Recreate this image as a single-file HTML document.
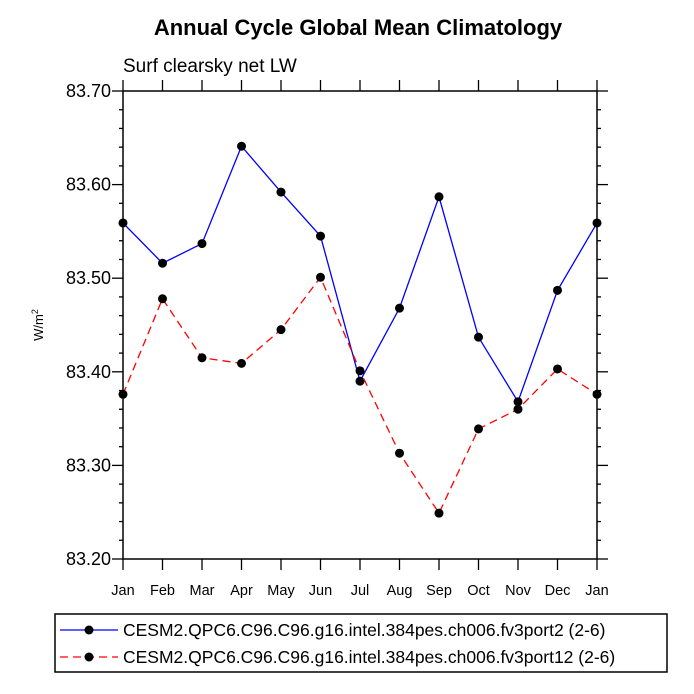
<!DOCTYPE html>
<html><head><meta charset="utf-8"><style>body{margin:0;background:#fff}svg{display:block}</style></head>
<body>
<svg id="c" width="694" height="694" xmlns="http://www.w3.org/2000/svg" font-family="Liberation Sans, sans-serif">
<text x="358" y="35" text-anchor="middle" font-size="22" font-weight="bold">Annual Cycle Global Mean Climatology</text>
<text x="123" y="72" font-size="19">Surf clearsky net LW</text>
<text transform="translate(43,325) rotate(-90)" text-anchor="middle" font-size="13">W/m<tspan font-size="9" dy="-5">2</tspan></text>
<g id="axes"></g>
<g id="series"></g>
<g>
<rect x="55" y="614" width="612" height="58" fill="none" stroke="#000" stroke-width="1.5"/>
<line x1="60" y1="630" x2="118" y2="630" stroke="#00f" stroke-width="1.3"/>
<circle cx="89" cy="630" r="4.5"/>
<text x="123" y="636" font-size="17.5">CESM2.QPC6.C96.C96.g16.intel.384pes.ch006.fv3port2 (2-6)</text>
<line x1="60" y1="657" x2="118" y2="657" stroke="#f00" stroke-width="1.3" stroke-dasharray="8,5"/>
<circle cx="89" cy="657" r="4.5"/>
<text x="123" y="663" font-size="17.5">CESM2.QPC6.C96.C96.g16.intel.384pes.ch006.fv3port12 (2-6)</text>
</g>
</svg>
<script>
const months=["Jan","Feb","Mar","Apr","May","Jun","Jul","Aug","Sep","Oct","Nov","Dec","Jan"];
const port2=[83.559,83.516,83.537,83.641,83.592,83.545,83.390,83.468,83.587,83.437,83.368,83.487,83.559];
const port12=[83.376,83.478,83.415,83.409,83.445,83.501,83.401,83.313,83.249,83.339,83.360,83.403,83.376];
const yTicks=["83.20","83.30","83.40","83.50","83.60","83.70"];
const L=123,R=597,T=91,B=559,ymin=83.2,ymax=83.7;
const xs=i=>L+i*(R-L)/(months.length-1);
const ys=v=>B-(v-ymin)/(ymax-ymin)*(B-T);
const NS="http://www.w3.org/2000/svg";
function mk(tag,at,parent){const e=document.createElementNS(NS,tag);for(const k in at)e.setAttribute(k,at[k]);parent.appendChild(e);return e;}
const ax=document.getElementById('axes'),se=document.getElementById('series');
const fr=mk('rect',{x:L,y:T,width:R-L,height:B-T,fill:'none',stroke:'#000','stroke-width':1.5},ax);


months.forEach((m,i)=>{const x=xs(i);
 const t1=mk('line',{x1:x,y1:B,x2:x,y2:B+11,stroke:'#000','stroke-width':1.3},ax);
 
 
 const t2=mk('line',{x1:x,y1:T,x2:x,y2:T-11,stroke:'#000','stroke-width':1.3},ax);
 
 
 const lb=mk('text',{x:x,y:B+36,'text-anchor':'middle','font-size':14.5},ax);lb.textContent=m;
 
 
});
for(let k=0;k<=25;k++){const v=ymin+k*0.02,y=ys(v),maj=k%5===0,len=maj?11:4;
 const a=mk('line',{x1:L,y1:y,x2:L-len,y2:y,stroke:'#000','stroke-width':1.3},ax);
 
 
 const b=mk('line',{x1:R,y1:y,x2:R+len,y2:y,stroke:'#000','stroke-width':1.3},ax);
 
 
}
yTicks.forEach(t=>{const lb=mk('text',{x:L-12,y:ys(parseFloat(t))+6,'text-anchor':'end','font-size':18},ax);lb.textContent=t;
 
 });
function draw(vals,color,dash,name){
 const p=mk('polyline',{points:vals.map((v,i)=>xs(i)+','+ys(v)).join(' '),fill:'none',stroke:color,'stroke-width':1.3,'stroke-dasharray':dash},se);
 
 
 vals.forEach((v,i)=>{const c=mk('circle',{cx:xs(i),cy:ys(v),r:4.5,fill:'#000'},se);
  
  });
}
draw(port2,'#00f','none','port2');
draw(port12,'#f00','8,5','port12');
</script>
</body></html>
